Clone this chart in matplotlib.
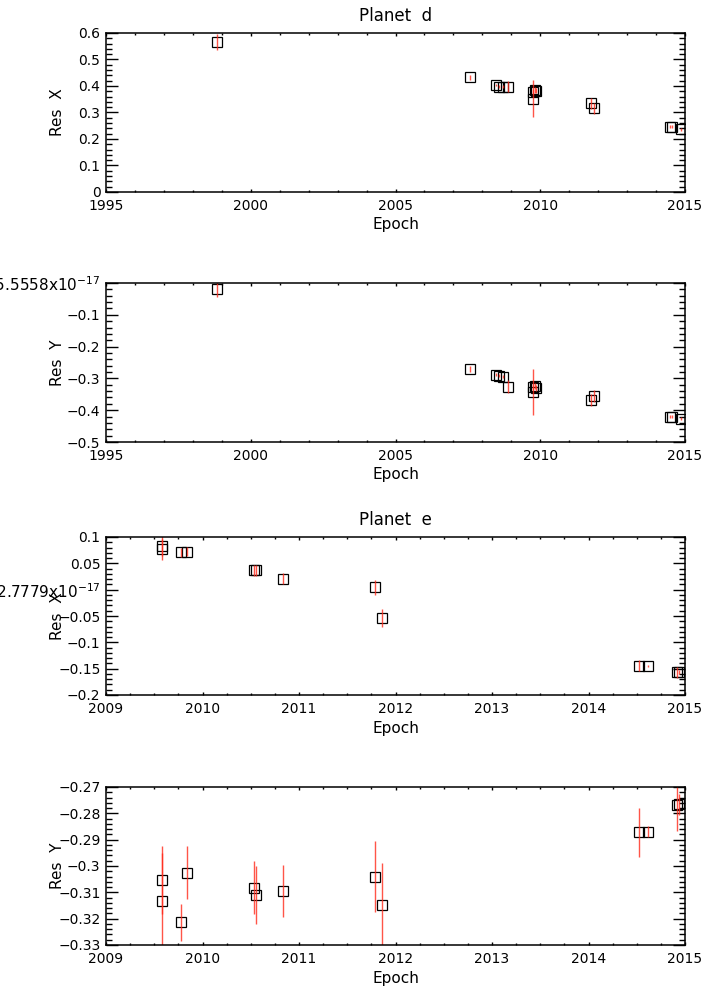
import numpy as np
import matplotlib
matplotlib.use('Agg')
import matplotlib.pyplot as plt
from matplotlib.ticker import MultipleLocator

# Planet d astrometric residuals
epoch_d = [1998.83, 2007.57, 2008.47, 2008.59, 2008.70, 2008.87, 2009.74, 2009.76,
           2009.82, 2009.86, 2011.75, 2011.84, 2014.48, 2014.56, 2014.86]
resx_d = [0.567, 0.433, 0.404, 0.397, 0.397, 0.397, 0.352, 0.378,
          0.385, 0.383, 0.335, 0.316, 0.246, 0.246, 0.237]
errx_d = [0.03, 0.01, 0.005, 0.005, 0.005, 0.02, 0.07, 0.01,
          0.01, 0.01, 0.02, 0.02, 0.005, 0.005, 0.005]
resy_d = [-0.020, -0.270, -0.289, -0.292, -0.295, -0.326, -0.344, -0.328,
          -0.324, -0.330, -0.368, -0.355, -0.420, -0.420, -0.427]
erry_d = [0.025, 0.01, 0.005, 0.005, 0.005, 0.02, 0.072, 0.01,
          0.01, 0.01, 0.02, 0.02, 0.005, 0.005, 0.005]

# Planet e astrometric residuals
epoch_e = [2009.58, 2009.58, 2009.78, 2009.84, 2010.53, 2010.55, 2010.83,
           2011.79, 2011.86, 2014.52, 2014.62, 2014.92, 2014.94]
resx_e = [0.083, 0.0766, 0.071, 0.072, 0.0367, 0.0367, 0.021,
          0.0044, -0.053, -0.144, -0.145, -0.157, -0.156]
errx_e = [0.02, 0.02, 0.009, 0.009, 0.01, 0.01, 0.01,
          0.014, 0.017, 0.01, 0.002, 0.01, 0.004]
resy_e = [-0.3053, -0.3132, -0.3213, -0.3025, -0.3082, -0.3111, -0.3095,
          -0.3041, -0.3147, -0.2872, -0.2870, -0.2768, -0.2765]
erry_e = [0.013, 0.018, 0.007, 0.010, 0.010, 0.011, 0.010,
          0.0135, 0.016, 0.0092, 0.002, 0.010, 0.004]

# tick values / labels
xt_d = [1995, 2000, 2005, 2010, 2015]
xt_e = [2009, 2010, 2011, 2012, 2013, 2014, 2015]
yt1 = [0, 0.1, 0.2, 0.3, 0.4, 0.5, 0.6]
yl1 = ['0', '0.1', '0.2', '0.3', '0.4', '0.5', '0.6']
yt2 = [-0.5, -0.4, -0.3, -0.2, -0.1, 0]
yl2 = ['\u22120.5', '\u22120.4', '\u22120.3', '\u22120.2', '\u22120.1',
       '\u22125.5558x10$^{-17}$']
yt3 = [-0.2, -0.15, -0.1, -0.05, 0, 0.05, 0.1]
yl3 = ['\u22120.2', '\u22120.15', '\u22120.1', '\u22120.05',
       '\u22122.7779x10$^{-17}$', '0.05', '0.1']
yt4 = [-0.33, -0.32, -0.31, -0.3, -0.29, -0.28, -0.27]
yl4 = ['\u22120.33', '\u22120.32', '\u22120.31', '\u22120.3', '\u22120.29',
       '\u22120.28', '\u22120.27']

W, H = 707, 991
fig = plt.figure(figsize=(W / 100, H / 100), dpi=100)
plt.rcParams['font.family'] = 'DejaVu Sans'

L, R = 106, 685


def panel(top, bot, x, y, e, xlim, ylim, xt, xminor, yt, yl, yminor, ylab):
    ax = fig.add_axes([L / W, 1 - bot / H, (R - L) / W, (bot - top) / H])
    ax.plot(x, y, ls='none', marker='s', ms=7, mfc='none', mec='black', mew=0.9)
    ax.errorbar(x, y, yerr=e, fmt='none', ecolor='#ff2a1a', elinewidth=1.0,
                alpha=0.8, capsize=0)
    ax.set_xlim(*xlim)
    ax.set_ylim(*ylim)
    ax.set_xticks(xt)
    ax.set_xticklabels([str(v) for v in xt])
    ax.xaxis.set_minor_locator(MultipleLocator(xminor))
    ax.set_yticks(yt)
    ax.set_yticklabels(yl)
    ax.yaxis.set_minor_locator(MultipleLocator(yminor))
    ax.tick_params(which='both', direction='in', top=True, right=True,
                   labelsize=10, width=1.0, color='black')
    ax.tick_params(axis='x', which='major', length=2.4, pad=5)
    ax.tick_params(axis='x', which='minor', length=1.4)
    ax.tick_params(axis='y', which='major', length=8.5, pad=4)
    ax.tick_params(axis='y', which='minor', length=4.3)
    # the round-off label at zero is drawn a little wider
    for t in ax.get_yticklabels():
        if 'x10' in t.get_text():
            t.set_fontsize(11)
    for s in ax.spines.values():
        s.set_linewidth(1.1)
    cy = (top + bot) / 2
    fig.text(58 / W, 1 - cy / H, ylab, rotation=90, ha='center', va='center',
             fontsize=11)
    fig.text((L + R) / 2 / W, 1 - (bot + 33) / H, 'Epoch', ha='center',
             va='center', fontsize=11)
    return ax


panel(33, 192, epoch_d, resx_d, errx_d, (1995, 2015), (0, 0.6), xt_d, 1,
      yt1, yl1, 0.02, 'Res  X')
panel(283, 442, epoch_d, resy_d, erry_d, (1995, 2015), (-0.5, 0), xt_d, 1,
      yt2, yl2, 0.02, 'Res  Y')
panel(537, 695, epoch_e, resx_e, errx_e, (2009, 2015), (-0.2, 0.1), xt_e, 0.25,
      yt3, yl3, 0.01, 'Res  X')
panel(787, 945, epoch_e, resy_e, erry_e, (2009, 2015), (-0.33, -0.27), xt_e, 0.25,
      yt4, yl4, 0.002, 'Res  Y')

fig.text((L + R) / 2 / W, 1 - 16 / H, 'Planet  d', ha='center', va='center',
         fontsize=12)
fig.text((L + R) / 2 / W, 1 - 520 / H, 'Planet  e', ha='center', va='center',
         fontsize=12)

fig.savefig('out.png', dpi=100, facecolor='white')
